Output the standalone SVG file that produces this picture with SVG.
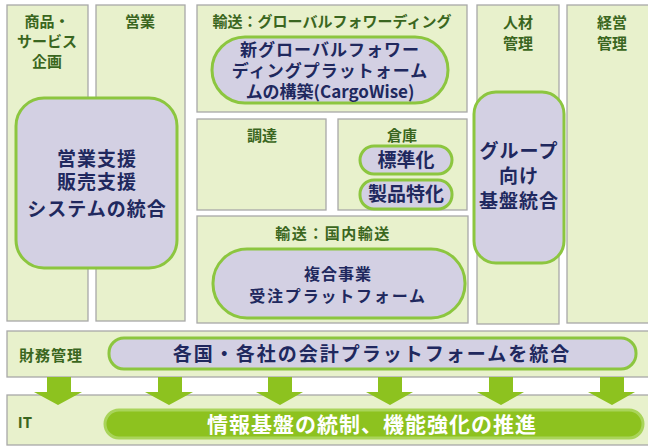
<svg xmlns="http://www.w3.org/2000/svg" width="648" height="446" viewBox="0 0 648 446">
<defs>
<style>
.box{fill:#e8f1cc;stroke:#a8a8a8;stroke-width:1.3}
.pill{fill:#d3d0e3;stroke:#8cc63f;stroke-width:3}
.hd{font-family:"Noto Sans CJK JP","Liberation Sans",sans-serif;font-weight:bold;fill:#3a6620;font-size:15px;text-anchor:middle}
.pt{font-family:"Noto Sans CJK JP","Liberation Sans",sans-serif;font-weight:bold;fill:#20285e;text-anchor:middle}
.arr{fill:#8dc21f}
</style>
</defs>
<rect width="648" height="446" fill="#ffffff"/>
<g id="col-shohin">
<rect class="box" x="7" y="5" width="81" height="316"/>
<text class="hd" x="47" y="27">商品・</text>
<text class="hd" x="47" y="47">サービス</text>
<text class="hd" x="47" y="67">企画</text>
</g>
<g id="col-eigyo">
<rect class="box" x="96" y="5" width="89" height="316"/>
<text class="hd" x="140" y="27">営業</text>
</g>
<g id="box-global">
<rect class="box" x="197" y="5" width="270" height="107"/>
<text class="hd" x="332" y="27">輸送：グローバルフォワーディング</text>
</g>
<g id="box-chotatsu">
<rect class="box" x="197" y="119" width="129" height="91"/>
<text class="hd" x="262" y="141">調達</text>
</g>
<g id="box-soko">
<rect class="box" x="338" y="119" width="129" height="91"/>
<text class="hd" x="402" y="141">倉庫</text>
</g>
<g id="box-kokunai">
<rect class="box" x="197" y="216" width="271" height="107"/>
<text class="hd" x="333" y="239" letter-spacing="1.5">輸送：国内輸送</text>
</g>
<g id="col-jinzai">
<rect class="box" x="477" y="5" width="82" height="319"/>
<text class="hd" x="518" y="28" font-size="16">人材</text>
<text class="hd" x="518" y="49" font-size="16">管理</text>
</g>
<g id="col-keiei">
<rect class="box" x="567" y="5" width="90" height="318"/>
<text class="hd" x="612" y="28" font-size="16">経営</text>
<text class="hd" x="612" y="49" font-size="16">管理</text>
</g>
<g id="pill-global">
<rect class="pill" x="212" y="37" width="236" height="66" rx="33"/>
<text class="pt" x="330" y="56" font-size="17" letter-spacing="1">新グローバルフォワー</text>
<text class="pt" x="330" y="77" font-size="17" letter-spacing="1">ディングプラットォーム</text>
<text class="pt" x="330" y="98" font-size="17">ムの構築(CargoWise)</text>
</g>
<g id="pill-hyojunka">
<rect class="pill" x="360" y="146" width="92" height="28" rx="14"/>
<text class="pt" x="406" y="167" font-size="19">標準化</text>
</g>
<g id="pill-seihin">
<rect class="pill" x="360" y="180" width="92" height="29" rx="14"/>
<text class="pt" x="406" y="201" font-size="19">製品特化</text>
</g>
<g id="pill-fukugo">
<rect class="pill" x="213" y="249" width="252" height="69" rx="34"/>
<text class="pt" x="338" y="280" font-size="16" letter-spacing="1">複合事業</text>
<text class="pt" x="338" y="302" font-size="16" letter-spacing="1.8">受注プラットフォーム</text>
</g>
<g id="pill-eigyo">
<rect class="pill" x="16" y="98" width="161" height="170" rx="28"/>
<text class="pt" x="97" y="166" font-size="19" letter-spacing="1">営業支援</text>
<text class="pt" x="97" y="189" font-size="19" letter-spacing="1">販売支援</text>
<text class="pt" x="97" y="216" font-size="19" letter-spacing="1">システムの統合</text>
</g>
<g id="pill-group">
<rect class="pill" x="474" y="92" width="90" height="171" rx="22"/>
<text class="pt" x="519" y="158" font-size="19" letter-spacing="1">グループ</text>
<text class="pt" x="519" y="183" font-size="19" letter-spacing="1">向け</text>
<text class="pt" x="519" y="208" font-size="19" letter-spacing="1">基盤統合</text>
</g>
<g id="row-zaimu">
<rect class="box" x="7" y="331" width="650" height="46"/>
<text class="hd" x="51" y="361" font-size="16" letter-spacing="1">財務管理</text>
<rect class="pill" x="109" y="338" width="527" height="31" rx="15"/>
<text class="pt" x="372" y="361" font-size="19" letter-spacing="2">各国・各社の会計プラットフォームを統合</text>
</g>
<g id="row-it">
<rect class="box" x="7" y="395" width="650" height="50"/>
<text class="hd" x="25" y="428">IT</text>
<rect x="105" y="410" width="538" height="28" rx="14" fill="#8dc21f" stroke="#a9d45a" stroke-width="3"/>
<text x="372" y="432" font-family="Noto Sans CJK JP,Liberation Sans,sans-serif" font-weight="bold" font-size="21" letter-spacing="1" fill="#ffffff" text-anchor="middle">情報基盤の統制、機能強化の推進</text>
</g>
<g id="connectors">
<path class="arr" d="M47,377H71V392H82L58,405L34,392H47Z"/>
<path class="arr" d="M158,377H182V392H193L169,405L145,392H158Z"/>
<path class="arr" d="M268,377H292V392H303L280,405L256,392H268Z"/>
<path class="arr" d="M378,377H402V392H413L390,405L366,392H378Z"/>
<path class="arr" d="M489,377H513V392H524L501,405L477,392H489Z"/>
<path class="arr" d="M600,377H624V392H635L612,405L588,392H600Z"/>
</g>
</svg>
